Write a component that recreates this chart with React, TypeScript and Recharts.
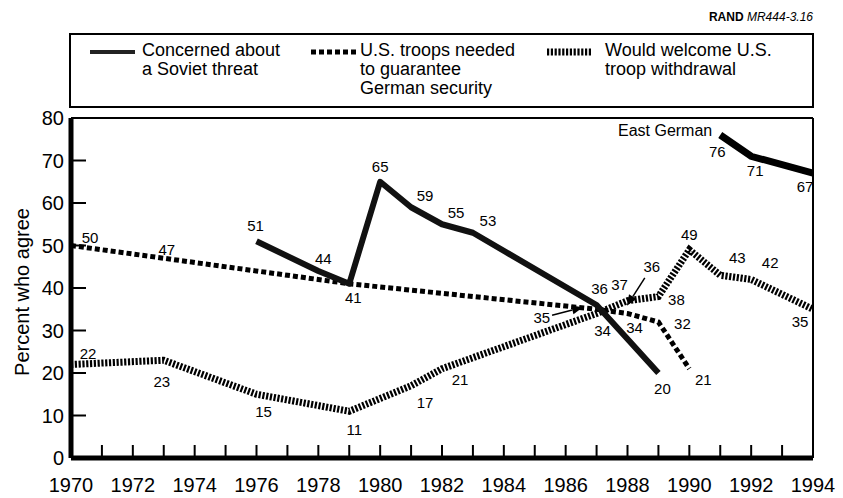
import React from "react";
import { LineChart, Line, XAxis, YAxis, ReferenceLine, LabelList } from "recharts";

const FONT = '"Liberation Sans", Arial, Helvetica, sans-serif';

// survey years and percent who agree, one pair of arrays per line
const sovietYears = [1976, 1978, 1979, 1980, 1981, 1982, 1983, 1987, 1989];
const sovietValues = [51, 44, 41, 65, 59, 55, 53, 36, 20];
const eastYears = [1991, 1992, 1994];
const eastValues = [76, 71, 67];
const troopsYears = [1970, 1973, 1979, 1987, 1988, 1989, 1990];
const troopsValues = [50, 47, 41, 35, 34, 32, 21];
const withdrawYears = [1970, 1973, 1976, 1979, 1981, 1982, 1987, 1988, 1989, 1990, 1991, 1992, 1994];
const withdrawValues = [22, 23, 15, 11, 17, 21, 34, 37, 38, 49, 43, 42, 35];

const yearTicks = [
    1970, 1971, 1972, 1973, 1974, 1975, 1976, 1977, 1978, 1979, 1980, 1981, 1982,
    1983, 1984, 1985, 1986, 1987, 1988, 1989, 1990, 1991, 1992, 1993, 1994,
];
const valueTicks = [0, 10, 20, 30, 40, 50, 60, 70, 80];

const toRows = (years: number[], values: number[]) => years.map((year, i) => ({ year, value: values[i] }));

const sovietData = toRows(sovietYears, sovietValues);
const eastData = toRows(eastYears, eastValues);
const troopsData = toRows(troopsYears, troopsValues);
const withdrawData = toRows(withdrawYears, withdrawValues);

// where each value label sits relative to its point (px), null = no label
type Off = [number, number] | null;
const sovietLabelOff: Off[] = [[-1, -16], [5, -13], null, [0, -15], [14, -12], [14, -12], [15, -12], [3, -17], [4, 15]];
const eastLabelOff: Off[] = [[-3, 16], [4, 14], [-8, 13]];
const troopsLabelOff: Off[] = [[19, -8], [3, -9], [4, 14], null, [7, 14], [24, 1], [14, 11]];
const withdrawLabelOff: Off[] = [
    [17, -11], [-2, 21], [7, 17], [5, 18], [14, 17], [18, 11],
    [6, 17], [-8, -16], [18, 3], [0, -15], [17, -18], [19, -17], [-13, 12],
];

const PLOT_LEFT = 71;
const PLOT_BOTTOM = 458;

const TROOPS_DASH = "5 3";
const WITHDRAW_DASH = "2.2 1.6";

const makeLabel = (offsets: Off[], extra?: (x: number, y: number, i: number) => React.ReactNode) => (props: any) => {
    const x = props.x ?? props.viewBox?.x;
    const y = props.y ?? props.viewBox?.y;
    const i = props.index;
    const off = offsets[i];
    if (x == null || y == null) return null;
    return (
        <g>
            {off && (
                <text x={x + off[0]} y={y + off[1]} textAnchor="middle" dominantBaseline="central"
                    fontSize={15} fontFamily={FONT} fill="#000">
                    {props.value}
                </text>
            )}
            {extra && extra(x, y, i)}
        </g>
    );
};

const eastTitle = (x: number, y: number, i: number) =>
    i === 0 ? (
        <text x={x - 8} y={y - 5} textAnchor="end" dominantBaseline="central" fontSize={16} fontFamily={FONT} fill="#000">
            East German
        </text>
    ) : null;

const YTick = (props: any) => {
    const { y, payload } = props;
    const v = payload.value;
    return (
        <g>
            {v > 0 && v < 80 && <line x1={PLOT_LEFT} x2={PLOT_LEFT + 15} y1={y} y2={y} stroke="#000" strokeWidth={2} />}
            <text x={PLOT_LEFT - 7} y={y} dy={7} textAnchor="end" fontSize={20} fontFamily={FONT} fill="#000">{v}</text>
        </g>
    );
};

const XTick = (props: any) => {
    const { x, payload } = props;
    const v = payload.value;
    return (
        <g>
            {v > 1970 && v < 1994 && <line x1={x} x2={x} y1={PLOT_BOTTOM} y2={PLOT_BOTTOM - 13} stroke="#000" strokeWidth={2} />}
            {v % 2 === 0 && (
                <text x={x} y={PLOT_BOTTOM + 34} textAnchor="middle" fontSize={20} fontFamily={FONT} fill="#000">{v}</text>
            )}
        </g>
    );
};

// callout arrow: tail at x1/y1, head at x2/y2, text beside the tail
const arrowShape = (text: string, place: "above" | "left") => (props: any) => {
    const { x1, y1, x2, y2 } = props;
    if ([x1, y1, x2, y2].some(v => v == null || isNaN(v))) return <g />;
    const dx = x2 - x1, dy = y2 - y1;
    const len = Math.sqrt(dx * dx + dy * dy) || 1;
    const ux = dx / len, uy = dy / len;
    const hl = 11, hw = 4.5;
    const bx = x2 - ux * hl, by = y2 - uy * hl;
    const head = `${x2},${y2} ${bx - uy * hw},${by + ux * hw} ${bx + uy * hw},${by - ux * hw}`;
    return (
        <g>
            <line x1={x1} y1={y1} x2={bx} y2={by} stroke="#000" strokeWidth={1.5} />
            <polygon points={head} fill="#000" />
            {place === "above" ? (
                <text x={x1 + 7} y={y1 - 11} textAnchor="middle" dominantBaseline="central" fontSize={15} fontFamily={FONT}>{text}</text>
            ) : (
                <text x={x1 - 2} y={y1 + 2} textAnchor="end" dominantBaseline="central" fontSize={15} fontFamily={FONT}>{text}</text>
            )}
        </g>
    );
};

const Swatch = ({ kind }: { kind: "soviet" | "troops" | "withdraw" }) => (
    <svg width={45} height={10} style={{ display: "block" }}>
        {kind === "soviet" && <line x1={0} x2={45} y1={5} y2={5} stroke="#222" strokeWidth={4} />}
        {kind === "troops" && <line x1={0} x2={45} y1={5} y2={5} stroke="#000" strokeWidth={5} strokeDasharray={TROOPS_DASH} />}
        {kind === "withdraw" && <line x1={0} x2={45} y1={5} y2={5} stroke="#000" strokeWidth={7} strokeDasharray={WITHDRAW_DASH} />}
    </svg>
);

const legendText: React.CSSProperties = {
    position: "absolute", fontFamily: FONT, fontSize: 18, lineHeight: "19px", color: "#000", whiteSpace: "nowrap",
};

export default function App() {
    return (
        <div style={{ position: "absolute", left: 0, top: 0, width: 843, height: 498, background: "#fff", overflow: "hidden" }}>
            <div style={{ position: "absolute", right: 30, top: 10, fontFamily: FONT, fontSize: 12, whiteSpace: "nowrap" }}>
                <b>RAND</b> <i>MR444-3.16</i>
            </div>

            <div style={{ position: "absolute", left: 69, top: 33, width: 745, height: 75, border: "2px solid #000", boxSizing: "border-box" }} />
            <div style={{ position: "absolute", left: 90, top: 47 }}><Swatch kind="soviet" /></div>
            <div style={{ ...legendText, left: 142, top: 41 }}>Concerned about<br />a Soviet threat</div>
            <div style={{ position: "absolute", left: 311, top: 47 }}><Swatch kind="troops" /></div>
            <div style={{ ...legendText, left: 360, top: 41 }}>U.S. troops needed<br />to guarantee<br />German security</div>
            <div style={{ position: "absolute", left: 547, top: 47 }}><Swatch kind="withdraw" /></div>
            <div style={{ ...legendText, left: 605, top: 41 }}>Would welcome U.S.<br />troop withdrawal</div>

            <LineChart width={843} height={498} margin={{ top: 118, right: 30, bottom: 8, left: 31 }}
                style={{ position: "absolute", left: 0, top: 0 }}>
                <XAxis type="number" dataKey="year" domain={[1970, 1994]} ticks={yearTicks} interval={0}
                    tick={<XTick />} tickLine={false} axisLine={{ stroke: "#000", strokeWidth: 5 }} height={32} allowDataOverflow />
                <YAxis type="number" domain={[0, 80]} ticks={valueTicks} interval={0} width={40}
                    tick={<YTick />} tickLine={false} axisLine={{ stroke: "#000", strokeWidth: 5 }}
                    label={{
                        content: () => (
                            <text x={22} y={292} transform="rotate(-90, 22, 292)" textAnchor="middle" dominantBaseline="central"
                                fontSize={20} fontFamily={FONT} fill="#000">
                                Percent who agree
                            </text>
                        ),
                    }} />
                <ReferenceLine y={80} stroke="#000" strokeWidth={2} />
                <ReferenceLine x={1994} stroke="#000" strokeWidth={2} />

                <Line data={troopsData} dataKey="value" type="linear" stroke="#000" strokeWidth={5}
                    strokeDasharray={TROOPS_DASH} dot={false} isAnimationActive={false}>
                    <LabelList dataKey="value" content={makeLabel(troopsLabelOff)} />
                </Line>
                <Line data={withdrawData} dataKey="value" type="linear" stroke="#000" strokeWidth={7}
                    strokeDasharray={WITHDRAW_DASH} dot={false} isAnimationActive={false}>
                    <LabelList dataKey="value" content={makeLabel(withdrawLabelOff)} />
                </Line>
                <Line data={sovietData} dataKey="value" type="linear" stroke="#111" strokeWidth={6}
                    strokeLinejoin="round" dot={false} isAnimationActive={false}>
                    <LabelList dataKey="value" content={makeLabel(sovietLabelOff)} />
                </Line>
                <Line data={eastData} dataKey="value" type="linear" stroke="#000" strokeWidth={7}
                    dot={false} isAnimationActive={false}>
                    <LabelList dataKey="value" content={makeLabel(eastLabelOff, eastTitle)} />
                </Line>

                <ReferenceLine segment={[{ x: 1988.56, y: 42.4 }, { x: 1987.98, y: 35.8 }]} ifOverflow="visible"
                    shape={arrowShape("36", "above")} />
                <ReferenceLine segment={[{ x: 1985.56, y: 33.6 }, { x: 1986.56, y: 35.5 }]} ifOverflow="visible"
                    shape={arrowShape("35", "left")} />
            </LineChart>
        </div>
    );
}
